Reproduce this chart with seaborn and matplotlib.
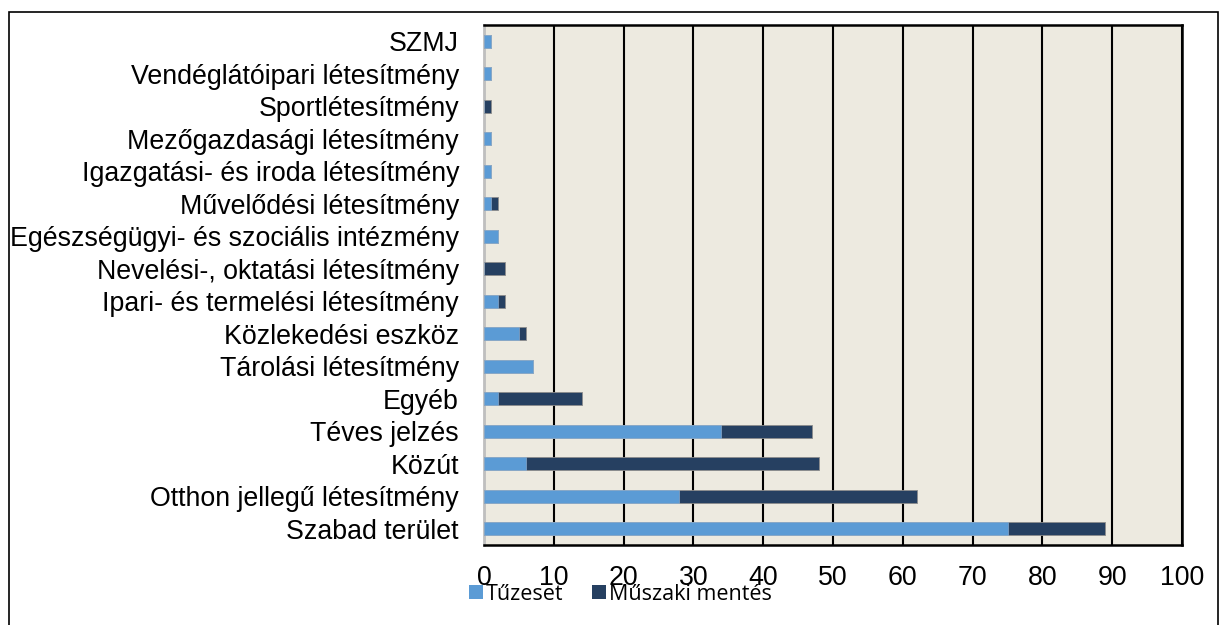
import matplotlib
matplotlib.use("Agg")
import matplotlib.pyplot as plt
import seaborn as sns
import pandas as pd
from matplotlib.patches import Rectangle, Patch

categories = [
    "SZMJ",
    "Vendéglátóipari létesítmény",
    "Sportlétesítmény",
    "Mezőgazdasági létesítmény",
    "Igazgatási- és iroda létesítmény",
    "Művelődési létesítmény",
    "Egészségügyi- és szociális intézmény",
    "Nevelési-, oktatási létesítmény",
    "Ipari- és termelési létesítmény",
    "Közlekedési eszköz",
    "Tárolási létesítmény",
    "Egyéb",
    "Téves jelzés",
    "Közút",
    "Otthon jellegű létesítmény",
    "Szabad terület",
]
tuzeset = [1, 1, 0, 1, 1, 1, 2, 0, 2, 5, 7, 2, 34, 6, 28, 75]
muszaki = [0, 0, 1, 0, 0, 1, 0, 3, 1, 1, 0, 12, 13, 42, 34, 14]
x_ticks = [0, 10, 20, 30, 40, 50, 60, 70, 80, 90, 100]

df = pd.DataFrame({"cat": categories, "Tűzeset": tuzeset, "Műszaki": muszaki})
df["total"] = df["Tűzeset"] + df["Műszaki"]

c_fire = "#5B9BD5"
c_tech = "#264061"

sns.set_style("white")
plt.rcParams["font.family"] = ["Liberation Sans", "DejaVu Sans"]
plt.rcParams["text.color"] = "black"
plt.rcParams["xtick.color"] = "black"
plt.rcParams["ytick.color"] = "black"

fig = plt.figure(figsize=(12.19, 6.25), dpi=100)
ax = fig.add_axes([484 / 1219, 80 / 625, (1182 - 484) / 1219, 520 / 625])
ax.set_facecolor("#EDEAE0")

sns.barplot(data=df, y="cat", x="total", orient="h", color=c_tech, saturation=1,
            width=0.4, ax=ax, edgecolor="#8c8c8c", linewidth=0.6, zorder=3)
sns.barplot(data=df, y="cat", x="Tűzeset", orient="h", color=c_fire, saturation=1,
            width=0.4, ax=ax, edgecolor="#9ab8d8", linewidth=0.4, zorder=4)

ax.set_xlim(0, 100)
ax.set_ylim(15.5, -0.5)
ax.set_xticks(x_ticks)
ax.set_xticklabels([str(t) for t in x_ticks], fontsize=19.3, color="black")
ax.set_yticks(range(len(categories)))
ax.set_yticklabels(categories, fontsize=19.3, color="black")
ax.set_xlabel("")
ax.set_ylabel("")
ax.tick_params(axis="x", length=0, pad=14.5)
ax.tick_params(axis="y", length=0, pad=18)

ax.xaxis.grid(True, color="black", linewidth=1.5, zorder=1)
ax.yaxis.grid(False)
ax.set_axisbelow(True)

for side in ["top", "bottom", "right"]:
    ax.spines[side].set_visible(True)
    ax.spines[side].set_color("black")
    ax.spines[side].set_linewidth(1.8)
ax.spines["left"].set_visible(True)
ax.spines["left"].set_color("#BFBFBF")
ax.spines["left"].set_linewidth(2)

handles = [Patch(facecolor=c_fire, edgecolor="none", label="Tűzeset"),
           Patch(facecolor=c_tech, edgecolor="none", label="Műszaki mentés")]
fig.legend(handles=handles, loc="center left", bbox_to_anchor=(469 / 1219, 1 - 594 / 625),
           ncol=2, frameon=False, prop={"family": "Open Sans", "size": 15.5},
           handlelength=0.65, handleheight=0.65, handletextpad=0.15, columnspacing=1.3,
           borderpad=0, borderaxespad=0, labelcolor="black")

fig.patches.append(Rectangle((9 / 1219, -0.05), (1218 - 9) / 1219, (625 - 12) / 625 + 0.05,
                             transform=fig.transFigure, fill=False, edgecolor="black",
                             linewidth=1.2, zorder=0))

fig.savefig("out.png", dpi=100)
